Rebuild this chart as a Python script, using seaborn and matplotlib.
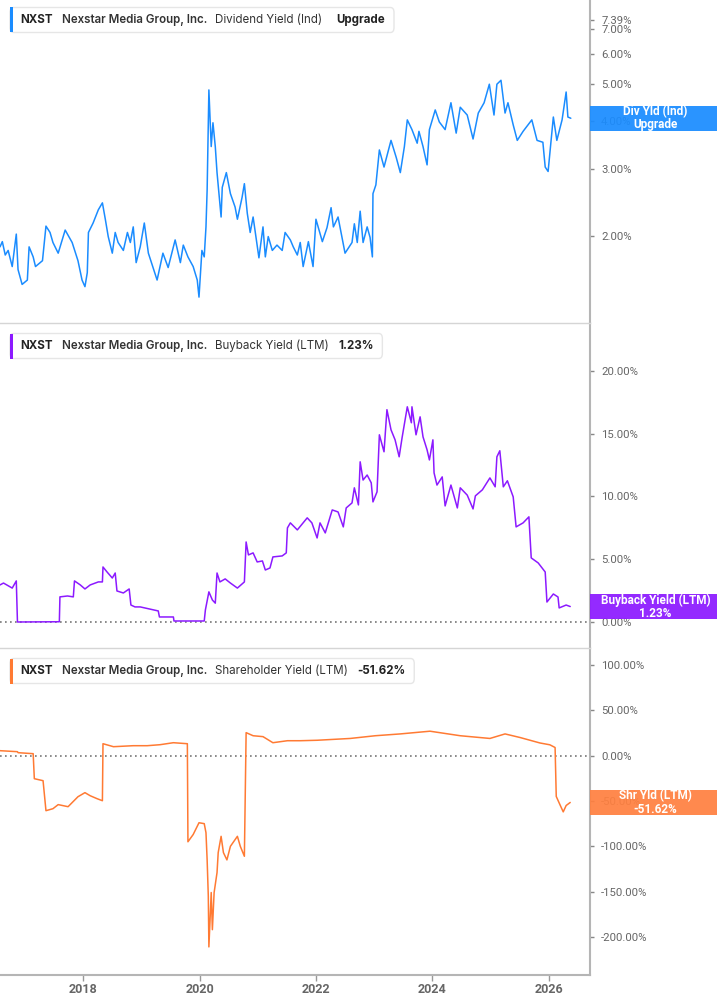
import matplotlib
matplotlib.use("Agg")
import matplotlib.pyplot as plt
from matplotlib.patches import Rectangle, FancyBboxPatch
from matplotlib.ticker import NullLocator
import seaborn as sns

# ---- data (decimal years, percent) ----
div_years = [2016.57, 2016.61, 2016.66, 2016.71, 2016.78, 2016.85, 2016.88, 2016.95, 2017.04, 2017.07,
             2017.14, 2017.18, 2017.30, 2017.36, 2017.43, 2017.48, 2017.57, 2017.69, 2017.81, 2017.91,
             2017.98, 2018.03, 2018.07, 2018.09, 2018.17, 2018.26, 2018.33, 2018.38, 2018.43, 2018.50,
             2018.55, 2018.60, 2018.69, 2018.76, 2018.81, 2018.86, 2018.91, 2018.98, 2019.05, 2019.12,
             2019.27, 2019.37, 2019.46, 2019.58, 2019.67, 2019.72, 2019.80, 2019.89, 2019.96, 2019.99,
             2020.04, 2020.08, 2020.11, 2020.13, 2020.16, 2020.20, 2020.23, 2020.27, 2020.30, 2020.37,
             2020.39, 2020.46, 2020.53, 2020.61, 2020.65, 2020.73, 2020.77, 2020.82, 2020.87, 2020.92,
             2021.02, 2021.09, 2021.13, 2021.18, 2021.25, 2021.33, 2021.42, 2021.47, 2021.56, 2021.61,
             2021.68, 2021.73, 2021.78, 2021.87, 2021.95, 2022.00, 2022.11, 2022.19, 2022.26, 2022.30,
             2022.38, 2022.50, 2022.62, 2022.66, 2022.71, 2022.76, 2022.81, 2022.88, 2022.93, 2022.97,
             2022.98, 2023.03, 2023.09, 2023.17, 2023.29, 2023.38, 2023.45, 2023.52, 2023.57, 2023.65,
             2023.74, 2023.77, 2023.84, 2023.91, 2023.95, 2024.05, 2024.12, 2024.22, 2024.32, 2024.41,
             2024.48, 2024.60, 2024.70, 2024.79, 2024.89, 2024.98, 2025.06, 2025.11, 2025.18, 2025.25,
             2025.30, 2025.39, 2025.46, 2025.56, 2025.71, 2025.80, 2025.90, 2025.94, 2025.99, 2026.08,
             2026.14, 2026.23, 2026.30, 2026.33, 2026.38]
div_yield = [1.87, 1.93, 1.78, 1.83, 1.66, 2.02, 1.63, 1.49, 1.53, 1.87,
             1.76, 1.66, 1.72, 2.12, 2.04, 1.92, 1.80, 2.07, 1.92, 1.72,
             1.53, 1.47, 1.60, 2.04, 2.16, 2.34, 2.44, 2.21, 1.99, 1.80,
             2.04, 1.92, 1.83, 2.04, 1.92, 2.11, 1.70, 1.87, 2.16, 1.80,
             1.53, 1.80, 1.65, 1.95, 1.70, 1.89, 1.76, 1.66, 1.53, 1.38,
             1.83, 1.76, 2.11, 2.64, 4.83, 3.43, 3.96, 3.43, 2.93, 2.24,
             2.68, 2.93, 2.58, 2.38, 2.21, 2.52, 2.74, 2.29, 2.04, 2.24,
             1.75, 2.11, 1.76, 1.99, 1.83, 1.89, 1.83, 2.04, 1.95, 1.87,
             1.78, 1.92, 1.66, 1.93, 1.66, 2.21, 1.93, 2.10, 2.37, 2.11,
             2.24, 1.80, 1.92, 2.15, 1.92, 2.32, 1.92, 2.11, 1.98, 1.76,
             2.58, 2.72, 3.36, 3.03, 3.56, 3.21, 2.93, 3.43, 4.03, 3.80,
             3.50, 3.76, 3.43, 3.07, 3.80, 4.28, 3.98, 3.80, 4.47, 3.72,
             4.35, 4.15, 3.59, 4.20, 4.47, 5.00, 4.15, 5.00, 5.12, 4.20,
             4.47, 3.91, 3.56, 3.76, 4.03, 3.56, 3.52, 3.03, 2.95, 4.10,
             3.56, 4.03, 4.77, 4.10, 4.07]

buy_years = [2016.57, 2016.63, 2016.78, 2016.85, 2016.87, 2017.59, 2017.60, 2017.73, 2017.83, 2017.85,
             2017.95, 2018.03, 2018.12, 2018.26, 2018.33, 2018.34, 2018.41, 2018.50, 2018.55, 2018.58,
             2018.69, 2018.79, 2018.82, 2018.89, 2018.98, 2019.29, 2019.31, 2019.55, 2019.56, 2020.08,
             2020.10, 2020.16, 2020.22, 2020.27, 2020.30, 2020.35, 2020.44, 2020.53, 2020.65, 2020.77,
             2020.80, 2020.84, 2020.92, 2020.99, 2021.08, 2021.13, 2021.21, 2021.26, 2021.42, 2021.49,
             2021.51, 2021.56, 2021.68, 2021.85, 2021.93, 2022.02, 2022.07, 2022.16, 2022.28, 2022.38,
             2022.47, 2022.52, 2022.62, 2022.66, 2022.73, 2022.76, 2022.81, 2022.88, 2022.95, 2022.98,
             2023.05, 2023.09, 2023.17, 2023.22, 2023.29, 2023.36, 2023.43, 2023.48, 2023.57, 2023.64,
             2023.65, 2023.72, 2023.79, 2023.84, 2023.91, 2023.95, 2024.01, 2024.03, 2024.08, 2024.17,
             2024.22, 2024.32, 2024.43, 2024.48, 2024.60, 2024.70, 2024.74, 2024.86, 2024.99, 2025.08,
             2025.11, 2025.16, 2025.22, 2025.29, 2025.39, 2025.44, 2025.56, 2025.66, 2025.70, 2025.82,
             2025.94, 2025.97, 2026.08, 2026.16, 2026.18, 2026.30, 2026.37]
buy_yield = [2.95, 3.10, 2.70, 3.27, 0.00, 0.02, 2.00, 2.07, 2.00, 3.27,
             2.95, 2.63, 2.95, 3.19, 3.19, 4.38, 3.98, 3.50, 3.90, 2.47,
             2.31, 2.63, 1.35, 1.20, 1.20, 0.88, 0.40, 0.40, 0.08, 0.08,
             0.96, 2.40, 1.75, 1.50, 3.90, 3.19, 3.43, 3.10, 2.70, 3.19,
             6.37, 5.34, 5.50, 4.78, 4.86, 4.14, 4.30, 5.18, 5.26, 5.50,
             7.49, 7.89, 7.33, 8.29, 7.89, 6.69, 7.89, 7.09, 8.92, 8.76,
             7.57, 9.08, 9.48, 10.68, 9.32, 12.75, 11.30, 11.70, 11.08, 9.56,
             10.36, 14.90, 13.55, 16.90, 15.30, 14.50, 13.15, 14.66, 17.13, 15.86,
             17.13, 14.90, 16.33, 14.74, 13.70, 12.90, 14.50, 11.87, 10.90, 11.55,
             9.24, 10.90, 9.08, 10.68, 10.10, 9.00, 10.04, 10.52, 11.47, 10.76,
             13.15, 13.63, 10.76, 11.24, 9.96, 7.57, 7.89, 8.37, 5.10, 4.70,
             3.98, 1.59, 2.23, 1.99, 1.12, 1.35, 1.23]

shr_years = [2016.57, 2016.87, 2016.88, 2017.14, 2017.16, 2017.31, 2017.36, 2017.48, 2017.57, 2017.74,
             2017.91, 2018.03, 2018.12, 2018.24, 2018.33, 2018.34, 2018.52, 2018.86, 2019.10, 2019.32,
             2019.55, 2019.79, 2019.80, 2019.89, 2019.99, 2020.08, 2020.11, 2020.13, 2020.15, 2020.16,
             2020.20, 2020.22, 2020.25, 2020.30, 2020.32, 2020.37, 2020.41, 2020.47, 2020.53, 2020.65,
             2020.70, 2020.77, 2020.80, 2020.92, 2021.09, 2021.26, 2021.51, 2021.73, 2022.02, 2022.59,
             2023.02, 2023.45, 2023.96, 2024.48, 2024.99, 2025.25, 2025.51, 2025.85, 2026.02, 2026.11,
             2026.13, 2026.20, 2026.25, 2026.30, 2026.37]
shr_yield = [5.5, 4.4, 3.3, 2.2, -25.4, -27.6, -60.7, -58.5, -54.0, -56.3,
             -45.3, -40.8, -44.2, -47.5, -49.7, 13.2, 9.9, 11.0, 11.0, 12.1,
             14.3, 13.2, -95.0, -87.0, -74.0, -75.0, -85.0, -115.0, -155.0, -211.0,
             -151.0, -192.0, -151.0, -129.0, -107.0, -89.0, -107.0, -115.0, -100.0, -89.0,
             -100.0, -111.0, 25.4, 22.0, 21.0, 14.3, 16.5, 16.5, 17.0, 19.0,
             22.0, 24.0, 27.0, 22.0, 19.0, 24.0, 20.0, 14.0, 12.0, 9.0,
             -45.0, -55.0, -62.0, -55.0, -51.62]

div_ticks = [2, 3, 4, 5, 6, 7, 7.39]
buy_ticks = [0, 5, 10, 15, 20]
shr_ticks = [-200, -150, -100, -50, 0, 50, 100]
year_ticks = [2018, 2020, 2022, 2024, 2026]

BLUE, PURPLE, ORANGE = "#1a8cff", "#8c1aff", "#ff7a33"
TAG_ORANGE = "#ff8040"

sns.set_style("white")
plt.rcParams['font.family'] = ['Roboto', 'DejaVu Sans']

W, H = 717, 1005
fig = plt.figure(figsize=(W / 100, H / 100), dpi=100)


def fx(px):
    return px / W


def fy(py):
    return 1 - py / H


AX_RIGHT = 590
panels = [(0, 323), (323, 648), (648, 975)]
axes = []
for top, bot in panels:
    axes.append(fig.add_axes([0, fy(bot), fx(AX_RIGHT), (bot - top) / H]))

series = [(div_years, div_yield, BLUE), (buy_years, buy_yield, PURPLE), (shr_years, shr_yield, ORANGE)]
for ax, (xs, ys, c) in zip(axes, series):
    sns.lineplot(x=xs, y=ys, ax=ax, color=c, lw=1.1, estimator=None, sort=False)
    ax.set_xlim(2016.57, 2026.71)
    ax.set_xlabel("")
    ax.set_ylabel("")
    ax.yaxis.tick_right()
    ax.tick_params(axis="y", direction="out", length=3, width=1, color="#888888",
                   labelsize=8.2, labelcolor="#666666", pad=5)
    for s in ["left", "top", "bottom"]:
        ax.spines[s].set_visible(False)
    ax.spines["right"].set_color("#b5b5b5")
    ax.spines["right"].set_linewidth(1.5)

# top panel: log scale
ax0 = axes[0]
ax0.set_yscale("log")
ax0.set_ylim(1.18, 8.32)
ax0.yaxis.set_minor_locator(NullLocator())
ax0.set_yticks(div_ticks)
ax0.set_yticklabels([f"{v:.2f}%" for v in div_ticks])

ax1 = axes[1]
ax1.set_ylim(-2.07, 23.8)
ax1.set_yticks(buy_ticks)
ax1.set_yticklabels([f"{v:.2f}%" for v in buy_ticks])

ax2 = axes[2]
ax2.set_ylim(-242, 118.8)
ax2.set_yticks(shr_ticks)
ax2.set_yticklabels([f"{v:.2f}%" for v in shr_ticks])

for ax in (ax1, ax2):
    ax.axhline(0, color="#777777", lw=1.2, ls=(0, (1, 2)), zorder=1)
    ax.spines["top"].set_visible(True)
    ax.spines["top"].set_color("#d5d5d5")
    ax.spines["top"].set_linewidth(1)

for ax in (ax0, ax1):
    ax.tick_params(axis="x", bottom=False, labelbottom=False)

ax2.spines["bottom"].set_visible(True)
ax2.spines["bottom"].set_color("#b5b5b5")
ax2.spines["bottom"].set_linewidth(1.5)
ax2.set_xticks(year_ticks)
ax2.set_xticklabels([str(y) for y in year_ticks], fontweight="bold")
ax2.tick_params(axis="x", bottom=True, direction="out", length=4, width=1, color="#999999",
                labelsize=9, labelcolor="#666666", pad=2)

# ---- legend boxes: segments laid out left to right ----
renderer = fig.canvas.get_renderer()
fam = ["Inter", "DejaVu Sans"]
legends = [
    (20, BLUE, "Dividend Yield (Ind)", "Upgrade", 14),
    (346, PURPLE, "Buyback Yield (LTM)", "1.23%", 9),
    (671, ORANGE, "Shareholder Yield (LTM)", "-51.62%", 9),
]
for cy, c, name, val, last_gap in legends:
    parts = [("NXST", "bold", "#222222", 9),
             ("Nexstar Media Group, Inc.", "semibold", "#333333", 8),
             (name, "normal", "#333333", last_gap),
             (val, "bold", "#222222", 0)]
    x = 20.5
    for txt, wt, col, gap in parts:
        t = fig.text(fx(x), fy(cy), txt, family=fam, weight=wt, size=8.3, color=col,
                     va="center", zorder=7)
        x += t.get_window_extent(renderer).width + gap
    right = x + 9
    box = FancyBboxPatch((fx(10), fy(cy + 12.5)), fx(right - 10), 25 / H,
                         boxstyle="round,pad=0,rounding_size=0.005",
                         transform=fig.transFigure, facecolor="white",
                         edgecolor="#e6e6e6", lw=1, zorder=5)
    fig.patches.append(box)
    fig.patches.append(Rectangle((fx(10), fy(cy + 12.5)), fx(3), 25 / H,
                                 transform=fig.transFigure, facecolor=c, edgecolor="none", zorder=6))

# ---- last-value tags on the right axis ----
tags = [
    (ax0, div_years[-1], div_yield[-1], BLUE, "Div Yld (Ind)\nUpgrade"),
    (ax1, buy_years[-1], buy_yield[-1], PURPLE, "Buyback Yield (LTM)\n1.23%"),
    (ax2, shr_years[-1], shr_yield[-1], TAG_ORANGE, "Shr Yld (LTM)\n-51.62%"),
]
for ax, xv, yv, c, label in tags:
    disp_y = ax.transData.transform((xv, yv))[1]
    cyf = disp_y / H
    fig.patches.append(Rectangle((fx(AX_RIGHT), cyf - 12.5 / H), fx(W - AX_RIGHT), 25 / H,
                                 transform=fig.transFigure, facecolor=c, edgecolor="none",
                                 alpha=0.93, zorder=8))
    fig.text(fx((AX_RIGHT + W) / 2 + 2), cyf, label, ha="center", va="center", color="white",
             weight="bold", size=8.5, linespacing=1.0, zorder=9)

fig.savefig("out.png", dpi=100)
